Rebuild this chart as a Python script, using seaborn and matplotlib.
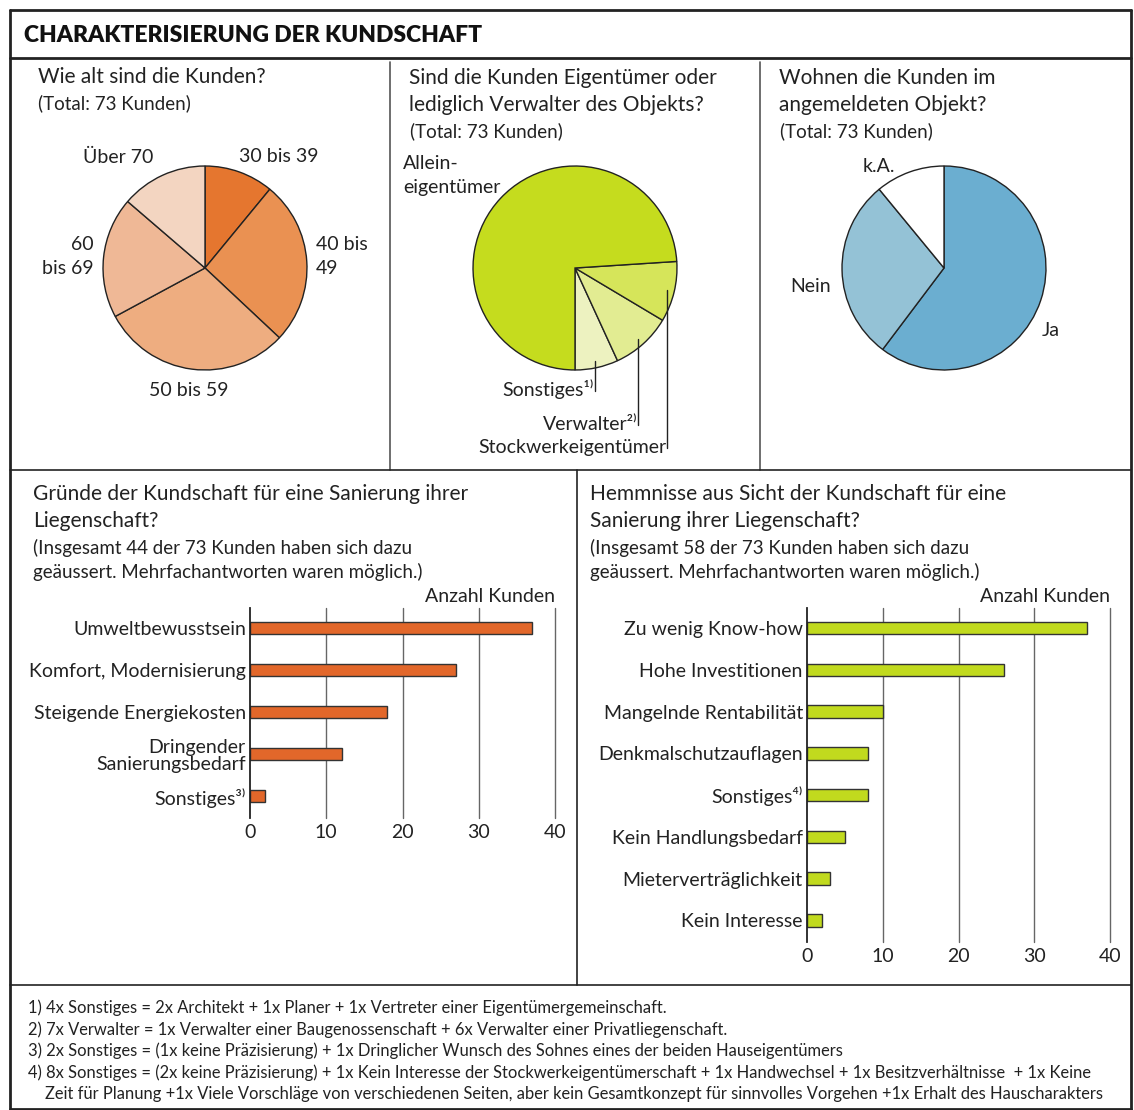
import numpy as np
import pandas as pd
import matplotlib.pyplot as plt
import seaborn as sns
from matplotlib.lines import Line2D

# ---- data ----
age_labels = ["30 bis 39", "40 bis 49", "50 bis 59", "60 bis 69", "Über 70"]
age_counts = [8, 19, 22, 14, 10]
age_colors = ["#E5762F", "#EA9152", "#EEAD80", "#EFB896", "#F3D5C1"]

own_labels = ["Sonstiges", "Verwalter", "Stockwerkeigentümer", "Alleineigentümer"]
own_counts = [5, 7, 7, 54]
own_colors = ["#EDF2C0", "#E2EC92", "#D6E55A", "#C5DC1E"]

live_labels = ["Ja", "Nein", "k.A."]
live_counts = [44, 21, 8]
live_colors = ["#6BAED0", "#94C2D6", "#FFFFFF"]

reasons = ["Umweltbewusstsein", "Komfort, Modernisierung", "Steigende Energiekosten",
           "Dringender\nSanierungsbedarf", "Sonstiges³⁾"]
reason_counts = [37, 27, 18, 12, 2]

barriers = ["Zu wenig Know-how", "Hohe Investitionen", "Mangelnde Rentabilität",
            "Denkmalschutzauflagen", "Sonstiges⁴⁾", "Kein Handlungsbedarf",
            "Mieterverträglichkeit", "Kein Interesse"]
barrier_counts = [37, 26, 10, 8, 8, 5, 3, 2]

x_ticks = [0, 10, 20, 30, 40]

footnotes = [
    "1) 4x Sonstiges = 2x Architekt + 1x Planer + 1x Vertreter einer Eigentümergemeinschaft.",
    "2) 7x Verwalter = 1x Verwalter einer Baugenossenschaft + 6x Verwalter einer Privatliegenschaft.",
    "3) 2x Sonstiges = (1x keine Präzisierung) + 1x Dringlicher Wunsch des Sohnes eines der beiden Hauseigentümers",
    "4) 8x Sonstiges = (2x keine Präzisierung) + 1x Kein Interesse der Stockwerkeigentümerschaft + 1x Handwechsel + 1x Besitzverhältnisse  + 1x Keine",
    "    Zeit für Planung +1x Viele Vorschläge von verschiedenen Seiten, aber kein Gesamtkonzept für sinnvolles Vorgehen +1x Erhalt des Hauscharakters",
]

sns.set_theme(style="white")
plt.rcParams['font.family'] = ['Lato', 'DejaVu Sans']
TXT = "#222222"

W, H = 1134, 1110
fig = plt.figure(figsize=(W / 100, H / 100), dpi=100)


def fx(px):
    return px / W


def fy(py):
    return 1 - py / H


def ftext(x, y, s, **kw):
    kw.setdefault("color", TXT)
    kw.setdefault("va", "center")
    kw.setdefault("fontsize", 14)
    fig.text(fx(x), fy(y), s, **kw)


def fline(x0, y0, x1, y1, lw=1.2, color="#222222"):
    fig.add_artist(Line2D([fx(x0), fx(x1)], [fy(y0), fy(y1)], lw=lw, color=color,
                          transform=fig.transFigure))


def px_axes(left, top, width, height):
    return fig.add_axes([fx(left), fy(top + height), width / W, height / H])


# ---- frame ----
fline(10, 10, 1131, 10, lw=2)
fline(10, 58, 1131, 58, lw=2)
fline(10, 10, 10, 1109, lw=2)
fline(1131, 10, 1131, 1109, lw=2)
fline(10, 1109, 1131, 1109, lw=2)
fline(390, 62, 390, 470, lw=1.2, color="#555555")
fline(760, 62, 760, 470, lw=1.2, color="#555555")
fline(10, 470, 1131, 470, lw=1.2)
fline(577, 470, 577, 985, lw=1.2)
fline(10, 985, 1131, 985, lw=1.2)

ftext(24, 35, "CHARAKTERISIERUNG DER KUNDSCHAFT", fontsize=16.5, fontweight="heavy", color="#111111")


# ---- pies ----
def draw_pie(cx, cy, r, counts, colors, startangle, counterclock):
    ax = px_axes(cx - r, cy - r, 2 * r, 2 * r)
    wedges, _ = ax.pie(counts, colors=colors, startangle=startangle, counterclock=counterclock,
                       wedgeprops=dict(edgecolor="#222222", linewidth=1.0))
    ax.set_xlim(-1.01, 1.01)
    ax.set_ylim(-1.01, 1.01)
    ax.axis("off")
    return ax, wedges


# age
ftext(38, 77, "Wie alt sind die Kunden?", fontsize=15)
ftext(38, 103, "(Total: 73 Kunden)", fontsize=13.5)
draw_pie(205, 268, 103, age_counts, age_colors, 90, False)
ftext(153, 157, "Über 70", ha="right")
ftext(239, 157, "30 bis 39", ha="left")
ftext(316, 256, "40 bis\n49", ha="left", linespacing=1.5)
ftext(94, 256, "60\nbis 69", ha="right", multialignment="right", linespacing=1.5)
ftext(189, 390, "50 bis 59", ha="center")

# ownership
ftext(409, 78, "Sind die Kunden Eigentümer oder", fontsize=15)
ftext(409, 105, "lediglich Verwalter des Objekts?", fontsize=15)
ftext(410, 131, "(Total: 73 Kunden)", fontsize=13.5)
ax_own, own_wedges = draw_pie(575, 268, 103, own_counts, own_colors, -90, True)
ftext(403, 176, "Allein-\neigentümer", ha="left", linespacing=1.5)
own_label_y = [392, 427, 450]
own_texts = ["Sonstiges¹⁾", "Verwalter²⁾", "Stockwerkeigentümer"]
for w, ly, t in zip(own_wedges[:3], own_label_y, own_texts):
    mid = np.deg2rad((w.theta1 + w.theta2) / 2)
    x0, y0 = 0.93 * np.cos(mid), 0.93 * np.sin(mid)
    y1 = -(ly - 268) / 103
    ax_own.plot([x0, x0], [y0, y1], color="#222222", lw=1.0, clip_on=False)
    xpx = 575 + x0 * 103
    ftext(xpx - 2, ly - 3, t, ha="right")

# living
ftext(779, 78, "Wohnen die Kunden im", fontsize=15)
ftext(779, 105, "angemeldeten Objekt?", fontsize=15)
ftext(780, 131, "(Total: 73 Kunden)", fontsize=13.5)
draw_pie(944, 268, 103, live_counts, live_colors, 90, False)
ftext(1042, 330, "Ja", ha="left")
ftext(831, 287, "Nein", ha="right")
ftext(879, 166, "k.A.", ha="center")


# ---- bars ----
def draw_bars(left, right, top, bottom, labels, counts, color):
    ax = px_axes(left, top, right - left, bottom - top)
    df = pd.DataFrame({"label": labels, "count": counts})
    sns.barplot(data=df, x="count", y="label", orient="h", color=color, width=0.3,
                edgecolor="#333333", linewidth=1.0, saturation=1, ax=ax)
    n = len(labels)
    ax.set_xlim(0, 40)
    ax.set_ylim(n - 1 + 0.52, -0.48)
    for t in x_ticks[1:]:
        ax.axvline(t, color="#666666", lw=1.0, zorder=0, clip_on=False)
    for s in ["top", "right", "bottom"]:
        ax.spines[s].set_visible(False)
    ax.spines["left"].set_color("#222222")
    ax.spines["left"].set_linewidth(1.3)
    ax.set_xticks(x_ticks)
    ax.tick_params(axis="both", length=0, labelsize=14, labelcolor=TXT)
    ax.tick_params(axis="y", pad=3)
    ax.tick_params(axis="x", pad=4)
    ax.set_xlabel("")
    ax.set_ylabel("")
    ax.grid(False)
    ax.set_facecolor("none")
    for lab in ax.get_yticklabels():
        lab.set_multialignment("right")
        lab.set_linespacing(1.0)
    ftext(right, 596, "Anzahl Kunden", ha="right", fontsize=14)
    return ax


ftext(33, 494, "Gründe der Kundschaft für eine Sanierung ihrer", fontsize=15)
ftext(33, 521, "Liegenschaft?", fontsize=15)
ftext(33, 548, "(Insgesamt 44 der 73 Kunden haben sich dazu", fontsize=13.5)
ftext(33, 572, "geäussert. Mehrfachantworten waren möglich.)", fontsize=13.5)
draw_bars(250, 555, 608, 818, reasons, reason_counts, "#E2672A")

ftext(590, 494, "Hemmnisse aus Sicht der Kundschaft für eine", fontsize=15)
ftext(590, 521, "Sanierung ihrer Liegenschaft?", fontsize=15)
ftext(590, 548, "(Insgesamt 58 der 73 Kunden haben sich dazu", fontsize=13.5)
ftext(590, 572, "geäussert. Mehrfachantworten waren möglich.)", fontsize=13.5)
draw_bars(807, 1110, 608, 942, barriers, barrier_counts, "#C1DA1E")

# ---- footnotes ----
for i, line in enumerate(footnotes):
    ftext(28, 1008 + i * 21.5, line, fontsize=11.9)

fig.savefig("out.png", dpi=100)
